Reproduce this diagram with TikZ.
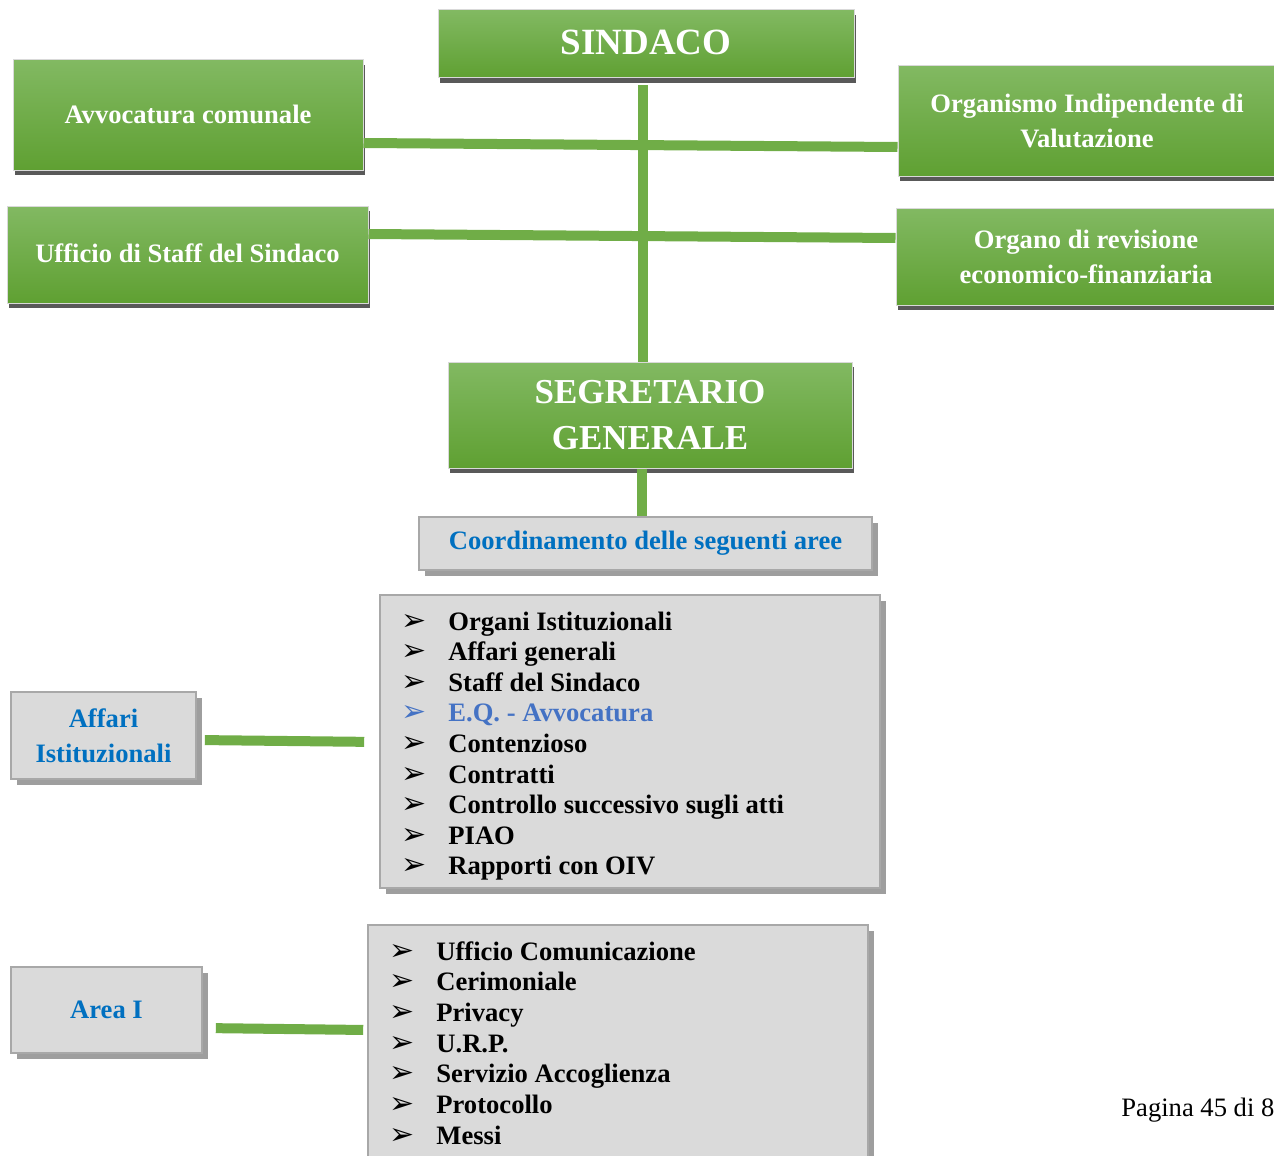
\documentclass[tikz,border=0pt]{standalone}
\usepackage{fontspec}
\setmainfont{Liberation Serif}
\newfontfamily\dejavu{DejaVu Sans}
\usetikzlibrary{shadows}
\definecolor{gtop}{RGB}{130,185,98}
\definecolor{gbot}{RGB}{95,160,50}
\definecolor{gline}{RGB}{112,173,71}
\definecolor{boxgray}{RGB}{218,218,218}
\definecolor{boxedge}{RGB}{168,168,168}
\definecolor{blu}{RGB}{0,112,192}
\definecolor{blu2}{RGB}{68,114,196}
\newcommand{\bul}{{\dejavu\fontsize{15}{15}\selectfont ➢}}
\begin{document}
\begin{tikzpicture}[x=0.5pt,y=-0.5pt,
  greenbox/.style={rectangle, draw=gray!30, line width=0.5pt, top color=gtop, bottom color=gbot,
    text=white, font=\fontsize{13.3}{17.5}\selectfont\bfseries, align=center, inner sep=0pt,
    drop shadow={shadow xshift=1pt, shadow yshift=-2.5pt, fill=black!65, opacity=1}},
  graybox/.style={rectangle, draw=boxedge, line width=0.8pt, fill=boxgray,
    text=blu, font=\fontsize{13.3}{17.5}\selectfont\bfseries, align=center, inner sep=0pt,
    drop shadow={shadow xshift=3pt, shadow yshift=-3pt, fill=black!38, opacity=1}},
  conn/.style={draw=gline, line width=5pt},
  itemtxt/.style={anchor=base west, inner sep=0pt, font=\fontsize{13.3}{15}\selectfont\bfseries},
  bultxt/.style={anchor=base west, inner sep=0pt}
]
\useasboundingbox (0,0) rectangle (1274,1156);
\clip (0,0) rectangle (1274,1156);

\coordinate (spine) at (643,0);
\coordinate (spine2) at (642,0);

% boxes
\node[greenbox, minimum width=208pt, minimum height=34pt, font=\fontsize{18.5}{22}\selectfont\bfseries] (sindaco) at (646,44) {\raisebox{1.5pt}{SINDACO}};
\node[greenbox, minimum width=175pt, minimum height=55pt] (avv) at (188,115) {\raisebox{1pt}{Avvocatura comunale}};
\node[greenbox, minimum width=189pt, minimum height=55pt] (oiv) at (1087,121) {Organismo Indipendente di\\Valutazione};
\node[greenbox, minimum width=180.5pt, minimum height=48.5pt] (staff) at (187.5,254.5) {\raisebox{1pt}{Ufficio di Staff del Sindaco}};
\node[greenbox, minimum width=190pt, minimum height=48.5pt] (rev) at (1086,256.5) {Organo di revisione\\economico-finanziaria};
\node[greenbox, minimum width=202pt, minimum height=53pt, font=\fontsize{17.5}{23}\selectfont\bfseries] (seg) at (650,415) {SEGRETARIO\\GENERALE};

\draw[conn, shorten <=3.5pt] (spine |- sindaco.south) -- (spine |- seg.north);
\draw[conn] (avv.east |- 0,143) -- (oiv.west |- 0,147);
\draw[conn] (staff.east |- 0,234) -- (rev.west |- 0,238);

\node[graybox, minimum width=226.5pt, minimum height=26.5pt] (coord) at (645.5,543.5) {Coordinamento delle seguenti aree};
\draw[conn] (spine2 |- seg.south) -- (spine2 |- coord.north);

\node[graybox, minimum width=250pt, minimum height=146.5pt] (list1) at (630,741.5) {};
\node[graybox, minimum width=92.5pt, minimum height=43.5pt] (affari) at (103.5,735.5) {Affari\\Istituzionali};
\node[graybox, minimum width=95.5pt, minimum height=43pt] (area1) at (106.5,1010) {Area I};
\node[graybox, minimum width=250pt, minimum height=120pt] (list2) at (618,1045) {};

\draw[conn, shorten <=4pt, shorten >=7.5pt] (affari.east |- 0,740) -- (list1.west |- 0,742);
\draw[conn, shorten <=6.5pt, shorten >=2pt] (area1.east |- 0,1028) -- (list2.west |- 0,1030);

% list 1
\foreach \t [count=\i] in {Organi Istituzionali, Affari generali, Staff del Sindaco, E.Q. - Avvocatura, Contenzioso, Contratti, Controllo successivo sugli atti, PIAO, Rapporti con OIV}{
  \pgfmathsetmacro{\yy}{630+(\i-1)*30.6}
  \ifnum\i=4
    \node[bultxt, text=blu2] (b1-\i) at (401,\yy) {\bul};
    \node[itemtxt, text=blu2] (t1-\i) at (448,\yy) {\t};
  \else
    \node[bultxt] (b1-\i) at (401,\yy) {\bul};
    \node[itemtxt] (t1-\i) at (448,\yy) {\t};
  \fi
}
% list 2
\foreach \t [count=\i] in {Ufficio Comunicazione, Cerimoniale, Privacy, U.R.P., Servizio Accoglienza, Protocollo, Messi}{
  \pgfmathsetmacro{\yy}{960+(\i-1)*30.7}
  \node[bultxt] (b2-\i) at (389,\yy) {\bul};
  \node[itemtxt] (t2-\i) at (436,\yy) {\t};
}

\node[anchor=base west, inner sep=0pt, font=\fontsize{13.3}{15}\selectfont] (page) at (1121,1116) {Pagina 45 di 8};
\end{tikzpicture}
\end{document}
